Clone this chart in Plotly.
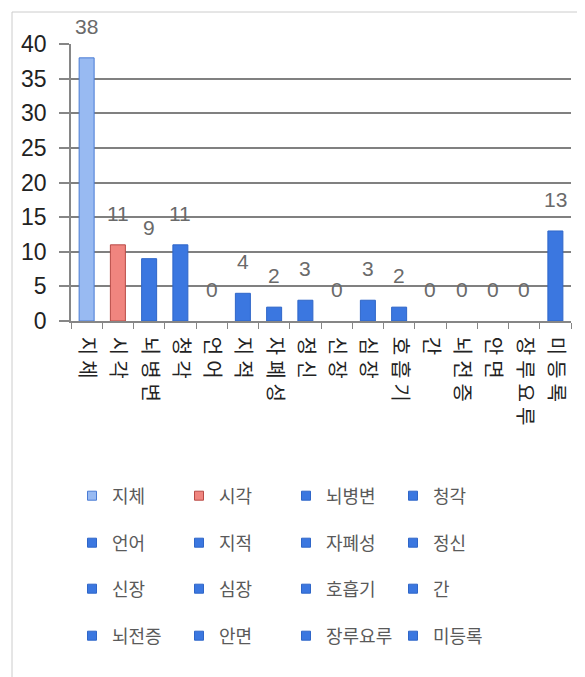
import plotly.graph_objects as go

categories = ["지체", "시각", "뇌병변", "청각", "언어", "지적", "자폐성", "정신",
              "신장", "심장", "호흡기", "간", "뇌전증", "안면", "장루요루", "미등록"]
values = [38, 11, 9, 11, 0, 4, 2, 3, 0, 3, 2, 0, 0, 0, 0, 13]
y_ticks = [0, 5, 10, 15, 20, 25, 30, 35, 40]

fills = ["#98baf2", "#f0857f"] + ["#3b77e0"] * 14
lines = ["#4a7bd4", "#b84a46"] + ["#2f66c8"] * 14

W, H = 585, 677
L, R, T, B = 63, 563, 36, 313
pw, ph = R - L, B - T

# spaced-out tick text (the reference shows stretched characters)
tick_text = ["\u2005".join(list(c)) for c in categories]

fig = go.Figure()
legend_names = ["legend", "legend2", "legend3", "legend4"]
for i, (c, v) in enumerate(zip(categories, values)):
    fig.add_trace(go.Bar(
        x=[c], y=[v], name=c, width=0.48,
        marker=dict(color=fills[i], line=dict(color=lines[i], width=1 if v > 0 else 0)),
        showlegend=False, hoverinfo="x+y",
    ))
# legend entries with small square markers, as in the reference
for i, c in enumerate(categories):
    fig.add_trace(go.Scatter(
        x=[None], y=[None], mode="markers", name=c,
        marker=dict(symbol="square", size=9, color=fills[i], line=dict(color=lines[i], width=1)),
        legend=legend_names[i // 4], showlegend=True, hoverinfo="skip",
    ))

annotations = []
for c, v in zip(categories, values):
    annotations.append(dict(
        x=c, y=v, xref="x", yref="y", text=str(v), showarrow=False,
        yanchor="bottom", yshift=18,
        font=dict(family="Liberation Sans, Arial", size=21, color="#6a6a6a"),
    ))

label_font = "Liberation Sans, Arial"
row_centers = [488, 535, 581, 628]
legend_layouts = {}
for k, name in enumerate(legend_names):
    legend_layouts[name] = dict(
        orientation="h", x=(64 - L) / pw, xanchor="left",
        y=(B - row_centers[k]) / ph, yanchor="middle",
        entrywidth=62, entrywidthmode="pixels", itemwidth=30,
        font=dict(family="Noto Sans CJK KR", size=18, color="#5a5a5a"),
        bgcolor="rgba(0,0,0,0)", itemclick=False, itemdoubleclick=False,
        traceorder="normal",
    )

fig.update_layout(
    width=W, height=H,
    margin=dict(l=L, r=W - R, t=T, b=H - B, pad=0),
    paper_bgcolor="white", plot_bgcolor="white",
    barmode="overlay",
    showlegend=True,
    annotations=annotations,
    shapes=[dict(type="rect", xref="paper", yref="paper",
                 x0=(4 - L) / pw, x1=(581 - L) / pw,
                 y0=(B - 672) / ph, y1=(B - 4) / ph,
                 line=dict(color="#cccccc", width=1), fillcolor="rgba(0,0,0,0)", layer="below")],
    xaxis=dict(
        type="category", categoryorder="array", categoryarray=categories,
        tickvals=categories, ticktext=tick_text,
        range=[-0.5, len(categories) - 0.5],
        tickangle=90, ticks="outside", tickson="boundaries", ticklen=6,
        tickcolor="#868686", showline=True, linecolor="#868686", linewidth=1.5,
        tickfont=dict(family="Noto Sans CJK KR", size=20, color="#222222"),
        ticklabelstandoff=10,
        showgrid=False, fixedrange=True,
    ),
    yaxis=dict(
        range=[0, 40], tickvals=y_ticks, ticktext=[str(t) for t in y_ticks],
        ticks="outside", ticklen=10, tickcolor="#868686", tickwidth=1.5,
        showline=True, linecolor="#868686", linewidth=1.5,
        showgrid=True, gridcolor="#808080", gridwidth=1.5,
        zeroline=False, ticklabelstandoff=8,
        tickfont=dict(family=label_font, size=23, color="#222222"),
        fixedrange=True,
    ),
    **legend_layouts,
)

fig.write_html("out.html")
